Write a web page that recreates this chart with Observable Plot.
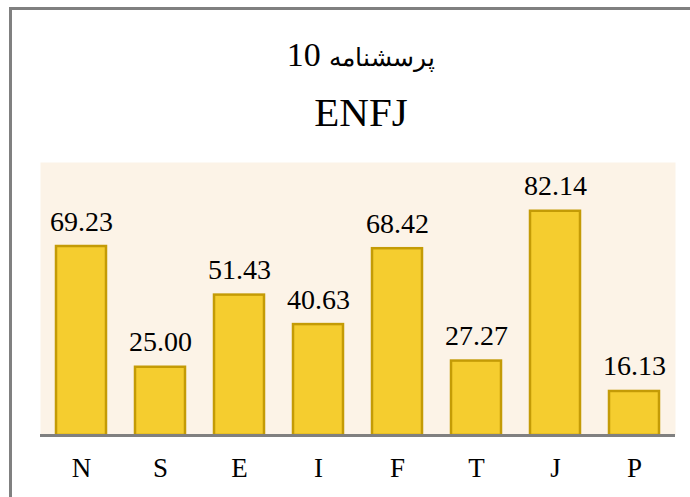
<!DOCTYPE html>
<html>
<head>
<meta charset="utf-8">
<script src="https://cdn.jsdelivr.net/npm/d3@7"></script>
<script src="https://cdn.jsdelivr.net/npm/@observablehq/plot@0.6"></script>
<style>
  html, body { margin: 0; padding: 0; background: #fff; width: 690px; height: 497px; overflow: hidden; }
  #frame { position: absolute; left: 9px; top: 7px; width: 700px; height: 520px;
           border-left: 3px solid #808080; border-top: 3px solid #808080; box-sizing: border-box; }
  .t { position: absolute; left: 0; width: 722px; text-align: center; color: #000;
       font-family: "Liberation Serif", "DejaVu Serif", serif; line-height: 1; white-space: nowrap; }
  #chart { position: absolute; left: 0; top: 150px; }
</style>
</head>
<body>
<div id="frame"></div>
<div class="t" id="t1" style="top: 38px; font-size: 34px;" dir="rtl"><span style="font-size: 25px;">پرسشنامه</span> 10</div>
<div class="t" id="t2" style="top: 92px; font-size: 41px;">ENFJ</div>
<div id="chart"></div>
<script>
const categories = ["N", "S", "E", "I", "F", "T", "J", "P"];
const values = [69.23, 25.00, 51.43, 40.63, 68.42, 27.27, 82.14, 16.13];
const labels = ["69.23", "25.00", "51.43", "40.63", "68.42", "27.27", "82.14", "16.13"];

const data = categories.map((c, i) => ({cat: c, value: values[i], label: labels[i]}));
const serif = "'Liberation Serif', 'DejaVu Serif', serif";

const plot = Plot.plot({
  width: 690,
  height: 340,
  marginLeft: 40,
  marginRight: 15,
  marginTop: 12,
  marginBottom: 55,
  style: {fontFamily: serif, background: "transparent", color: "#000"},
  x: {domain: categories, paddingInner: 0.37, paddingOuter: 0.185, axis: null},
  y: {domain: [0, 100], axis: null},
  marks: [
    Plot.frame({fill: "#fcf3e7", stroke: null}),
    Plot.barY(data, {x: "cat", y: "value", fill: "#f5cd2f", stroke: "#c49b06", strokeWidth: 2.5}),
    Plot.ruleY([0], {stroke: "#808080", strokeWidth: 3}),
    Plot.text(data, {x: "cat", y: "value", text: "label", dy: -16, lineAnchor: "bottom", fontSize: 28, fontFamily: serif, fill: "#000"}),
    Plot.text(data, {x: "cat", text: "cat", frameAnchor: "bottom", lineAnchor: "middle", dy: 33, fontSize: 27, fontFamily: serif, fill: "#000"})
  ]
});
document.getElementById("chart").appendChild(plot);
</script>
</body>
</html>
